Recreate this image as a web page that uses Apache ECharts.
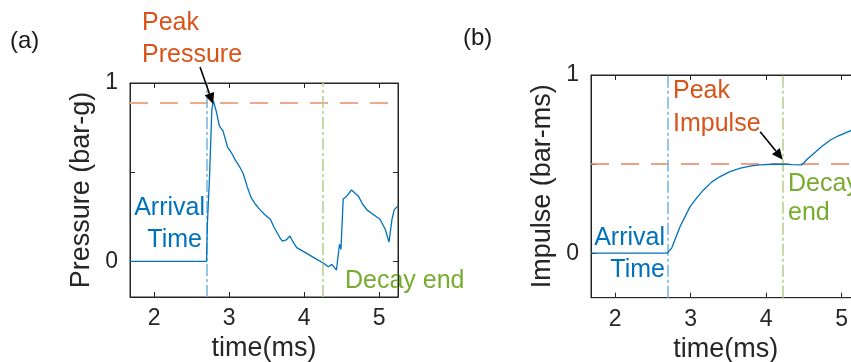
<!DOCTYPE html>
<html>
<head>
<meta charset="utf-8">
<script src="https://cdn.jsdelivr.net/npm/echarts@6/dist/echarts.min.js"></script>
<style>
  html, body { margin: 0; padding: 0; background: #fff; }
  #main { width: 851px; height: 362px; }
</style>
</head>
<body>
<div id="main"></div>
<script>
// (a) pressure trace, time in ms
var pressureTime = [1.68, 2.70, 2.71, 2.74, 2.77, 2.79, 2.83, 2.87, 2.92, 2.98, 3.03, 3.08, 3.14, 3.19,
  3.24, 3.29, 3.35, 3.41, 3.48, 3.55, 3.60, 3.64, 3.68, 3.71, 3.76, 3.81, 3.85, 3.90, 3.97, 4.04,
  4.15, 4.26, 4.32, 4.37, 4.43, 4.46, 4.47, 4.49, 4.52, 4.57, 4.59, 4.63, 4.72, 4.78, 4.84, 4.93,
  5.01, 5.08, 5.13, 5.17, 5.20, 5.25];
var pressureValue = [0, 0, 0.2, 0.48, 0.85, 0.9, 0.84, 0.76, 0.73, 0.64, 0.61, 0.57, 0.53, 0.49,
  0.42, 0.36, 0.32, 0.29, 0.26, 0.236, 0.19, 0.16, 0.13, 0.114, 0.12, 0.142, 0.11, 0.077, 0.06, 0.043,
  0.015, -0.011, -0.03, -0.017, -0.049, 0.058, 0.096, 0.067, 0.35, 0.367, 0.365, 0.40, 0.367, 0.32, 0.287, 0.26,
  0.236, 0.18, 0.108, 0.236, 0.29, 0.31];

// (b) impulse trace
var impulseTime = [1.68, 2.69, 2.75, 2.86, 2.99, 3.08, 3.17, 3.28, 3.39, 3.52, 3.66, 3.80, 3.92,
  4.08, 4.23, 4.35, 4.47, 4.55, 4.63, 4.74, 4.85, 4.94, 5.02, 5.13, 5.25];
var impulseValue = [0, 0, 0.03, 0.15, 0.26, 0.31, 0.355, 0.40, 0.43, 0.458, 0.477, 0.49, 0.495,
  0.499, 0.50, 0.497, 0.495, 0.53, 0.56, 0.60, 0.635, 0.655, 0.67, 0.69, 0.70];

// reference markers
var peakPressure = 0.89;
var peakImpulse = 0.5;
var arrivalA = 2.70, decayEndA = 4.25;
var arrivalB = 2.69, decayEndB = 4.22;

var xTicks = [2, 3, 4, 5];
var yTicks = [0, 0.5, 1];
var yTickLabels = [0, 1];

var FONT = "Liberation Sans, Arial, Helvetica, sans-serif";
var AXIS_COLOR = "#262626";
var BLUE = "#0072BD", ORANGE = "#D95319", GREEN = "#77AC30";

function zip(xs, ys) {
  return xs.map(function (x, i) { return [x, ys[i]]; });
}

function xAxisFor(grid, pos, withLabel) {
  return {
    type: "value", gridIndex: grid, position: pos, min: 1.68, max: 5.25,
    name: withLabel ? "time(ms)" : "", nameLocation: "middle", nameGap: 33,
    nameTextStyle: { fontFamily: FONT, fontSize: 27, color: AXIS_COLOR },
    axisLine: { show: true, onZero: false, lineStyle: { color: AXIS_COLOR, width: 1 } },
    axisTick: { show: true, inside: true, length: 5, customValues: xTicks, lineStyle: { color: AXIS_COLOR } },
    axisLabel: { show: withLabel, margin: 10, customValues: xTicks, fontFamily: FONT, fontSize: 23, color: AXIS_COLOR },
    splitLine: { show: false }
  };
}

function yAxisFor(grid, pos, min, title) {
  return {
    type: "value", gridIndex: grid, position: pos, min: min, max: 1,
    name: title || "", nameLocation: "middle", nameGap: 35,
    nameTextStyle: { fontFamily: FONT, fontSize: 27, color: AXIS_COLOR },
    axisLine: { show: true, onZero: false, lineStyle: { color: AXIS_COLOR, width: 1 } },
    axisTick: { show: true, inside: true, length: 5, customValues: yTicks, lineStyle: { color: AXIS_COLOR } },
    axisLabel: { show: !!title, margin: 12, customValues: yTickLabels, fontFamily: FONT, fontSize: 23, color: AXIS_COLOR,
      padding: [8, 0, 0, 0] },
    splitLine: { show: false }
  };
}

function vline(x, color) {
  return { xAxis: x, lineStyle: { color: color, width: 1.6, type: [12, 3, 3, 3] } };
}

function txt(x, y, s, color, align, size) {
  return {
    type: "text", x: x, y: y, silent: true,
    style: { text: s, fill: color, font: (size || 25) + "px " + FONT, align: align || "left", verticalAlign: "middle" }
  };
}

var chart = echarts.init(document.getElementById("main"));

var option = {
  animation: false,
  grid: [
    { left: 130, top: 83, width: 268, height: 214, show: true, borderColor: AXIS_COLOR, borderWidth: 1,
      outerBoundsMode: "none", containLabel: false },
    { left: 591, top: 75, width: 269.6, height: 222.7, show: true, borderColor: AXIS_COLOR, borderWidth: 1,
      outerBoundsMode: "none", containLabel: false }
  ],
  xAxis: [xAxisFor(0, "bottom", true), xAxisFor(0, "top", false), xAxisFor(1, "bottom", true), xAxisFor(1, "top", false)],
  yAxis: [yAxisFor(0, "left", -0.2, "Pressure (bar-g)"), yAxisFor(0, "right", -0.2),
          yAxisFor(1, "left", -0.25, "Impulse (bar-ms)"), yAxisFor(1, "right", -0.25)],
  series: [
    {
      type: "line", xAxisIndex: 0, yAxisIndex: 0, data: zip(pressureTime, pressureValue),
      showSymbol: false, lineStyle: { color: BLUE, width: 1.3 }, z: 3,
      markLine: {
        silent: true, symbol: "none", label: { show: false }, z: 2,
        data: [
          { yAxis: peakPressure, lineStyle: { color: "#EDA98A", width: 2, type: [18, 12] } },
          vline(arrivalA, "#7DB8E0"),
          vline(decayEndA, "#B7D392")
        ]
      }
    },
    {
      type: "line", xAxisIndex: 2, yAxisIndex: 2, data: zip(impulseTime, impulseValue),
      showSymbol: false, lineStyle: { color: BLUE, width: 1.3 }, z: 3,
      markLine: {
        silent: true, symbol: "none", label: { show: false }, z: 2,
        data: [
          { yAxis: peakImpulse, lineStyle: { color: "#E8835F", width: 1.6, type: [18, 12] } },
          vline(arrivalB, "#7DB8E0"),
          vline(decayEndB, "#B7D392")
        ]
      }
    },
    // empty series so the top / right box axes get a cartesian
    { type: "line", xAxisIndex: 1, yAxisIndex: 1, data: [] },
    { type: "line", xAxisIndex: 3, yAxisIndex: 3, data: [] }
  ],
  graphic: [
    txt(10, 41, "(a)", "#1a1a1a", "left", 24),
    txt(463, 38, "(b)", "#1a1a1a", "left", 24),
    txt(142, 23, "Peak", ORANGE),
    txt(142, 55, "Pressure", ORANGE),
    txt(205, 208, "Arrival", BLUE, "right"),
    txt(202, 240, "Time", BLUE, "right"),
    txt(345, 281, "Decay end", GREEN),
    txt(673, 91, "Peak", ORANGE),
    txt(673, 124, "Impulse", ORANGE),
    txt(788, 184, "Decay", GREEN),
    txt(788, 213, "end", GREEN),
    txt(665, 238, "Arrival", BLUE, "right"),
    txt(665, 270, "Time", BLUE, "right")
  ]
};
chart.setOption(option);

// annotation arrows, anchored in data coordinates
var arrows = [
  { grid: 0, from: [2.613, 1.09], to: [2.787, 0.882] },
  { grid: 1, from: [3.92, 0.682], to: [4.22, 0.525] }
];
var arrowGraphics = [];
arrows.forEach(function (a, i) {
  var p0 = chart.convertToPixel({ gridIndex: a.grid }, a.from);
  var p1 = chart.convertToPixel({ gridIndex: a.grid }, a.to);
  var dx = p1[0] - p0[0], dy = p1[1] - p0[1];
  var len = Math.sqrt(dx * dx + dy * dy);
  var ux = dx / len, uy = dy / len;
  var headLen = 11, headW = 5;
  var bx = p1[0] - ux * headLen, by = p1[1] - uy * headLen;
  arrowGraphics.push({
    type: "line", id: "arrowLine" + i, silent: true, z: 10,
    shape: { x1: p0[0], y1: p0[1], x2: bx, y2: by },
    style: { stroke: "#000", lineWidth: 1.6 }
  });
  arrowGraphics.push({
    type: "polygon", id: "arrowHead" + i, silent: true, z: 10,
    shape: { points: [[p1[0], p1[1]], [bx - uy * headW, by + ux * headW], [bx + uy * headW, by - ux * headW]] },
    style: { fill: "#000" }
  });
});
chart.setOption({ graphic: option.graphic.concat(arrowGraphics) });
</script>
</body>
</html>
